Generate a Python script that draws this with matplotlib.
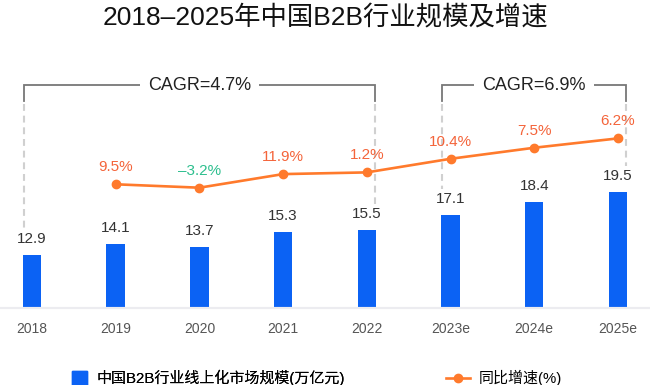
import matplotlib
matplotlib.use("Agg")
import matplotlib.pyplot as plt
from matplotlib.patches import Patch
from matplotlib.lines import Line2D

plt.rcParams['font.family'] = ['Liberation Sans', 'Noto Sans CJK SC']

# données
annees = ["2018", "2019", "2020", "2021", "2022", "2023e", "2024e", "2025e"]
taille = [12.9, 14.1, 13.7, 15.3, 15.5, 17.1, 18.4, 19.5]          # 万亿元
croissance = [None, 9.5, -3.2, 11.9, 1.2, 10.4, 7.5, 6.2]          # %
cagr_periodes = [(0, 4, "CAGR=4.7%"), (5, 7, "CAGR=6.9%")]

bleu = "#0b62f4"
orange = "#ff7a2c"
rouge = "#f4643a"
vert = "#2dbf8e"

fig = plt.figure(figsize=(6.5, 3.85), dpi=100)
ax = fig.add_axes([0, 0.2, 1, 248 / 385])
ax2 = ax.twinx()

x = list(range(len(annees)))
larg = 0.22
ax.bar(x, taille, width=larg, color=bleu, zorder=2)
ax.set_ylim(7.4, 33.2)
ax.set_xlim(-0.382, 7.383)

for xi, v in zip(x, taille):
    ax.annotate(f"{v:.1f}", (xi, v), xytext=(0, 11.5), textcoords="offset points",
                ha="center", va="center", fontsize=11, color="#333333")

# courbe (positionnée sur l'axe secondaire)
xs = [xi for xi, g in zip(x, croissance) if g is not None]
ys = [v for v, g in zip(taille, croissance) if g is not None]
ax2.plot(xs, ys, color=orange, lw=1.9, marker="o", markersize=6, zorder=3)
ax2.set_ylim(-0.45, 28.72)
for xi, yi, g in zip(xs, ys, [g for g in croissance if g is not None]):
    txt = f"{g:.1f}%".replace("-", "–")
    ax2.annotate(txt, (xi, yi), xytext=(0, 12.2), textcoords="offset points",
                 ha="center", va="center", fontsize=11, color=vert if g < 0 else rouge)

# accolades CAGR
lo, hi = ax.get_ylim()
y_haut = lo + 0.899 * (hi - lo)
y_bas = lo + 0.835 * (hi - lo)
y_tiret = lo + 0.823 * (hi - lo)
for i0, i1, lab in cagr_periodes:
    xa, xb = i0 - 0.1, i1 + 0.1
    ax.plot([xa, xa, xb, xb], [y_bas, y_haut, y_haut, y_bas], color="#777777", lw=1.3,
            solid_joinstyle="miter", zorder=1)
    for xe, v in ((xa, taille[i0]), (xb, taille[i1])):
        ax.plot([xe, xe], [y_tiret, v + 2.7], color="#d0d0d0", lw=1.5,
                linestyle=(0, (3.3, 2.3)), zorder=1)
    ax.text((xa + xb) / 2, y_haut, lab, ha="center", va="center", fontsize=13, color="#222222",
            bbox=dict(boxstyle="square,pad=0.45", fc="white", ec="none"), zorder=4)

ax.set_xticks(x)
ax.set_xticklabels(annees, fontsize=10, color="#555555")
ax.tick_params(axis="x", length=0, pad=10)
ax.set_yticks([])
ax2.set_yticks([])
for a in (ax, ax2):
    for s in ("top", "left", "right"):
        a.spines[s].set_visible(False)
    a.spines["bottom"].set_color("#ececf0")
    a.spines["bottom"].set_linewidth(1.5)

fig.text(0.5, 1 - 18 / 385, "2018–2025年中国B2B行业规模及增速", ha="center", va="center",
         fontsize=19, color="#111111")

# légende
leg1 = fig.legend(handles=[Patch(color=bleu, label="中国B2B行业线上化市场规模(万亿元)")],
                  loc="center left", bbox_to_anchor=(72 / 650, 1 - 378 / 385),
                  frameon=False, fontsize=10.8, handlelength=1.0, handleheight=1.0,
                  handletextpad=0.6, borderpad=0, borderaxespad=0)
leg2 = fig.legend(handles=[Line2D([], [], color=orange, lw=1.9, marker="o", markersize=6,
                                  label="同比增速(%)")],
                  loc="center left", bbox_to_anchor=(446 / 650, 1 - 378 / 385),
                  frameon=False, fontsize=10.8, handlelength=1.6,
                  handletextpad=0.6, borderpad=0, borderaxespad=0)
fig.add_artist(leg1)

fig.savefig("out.png", dpi=100)
